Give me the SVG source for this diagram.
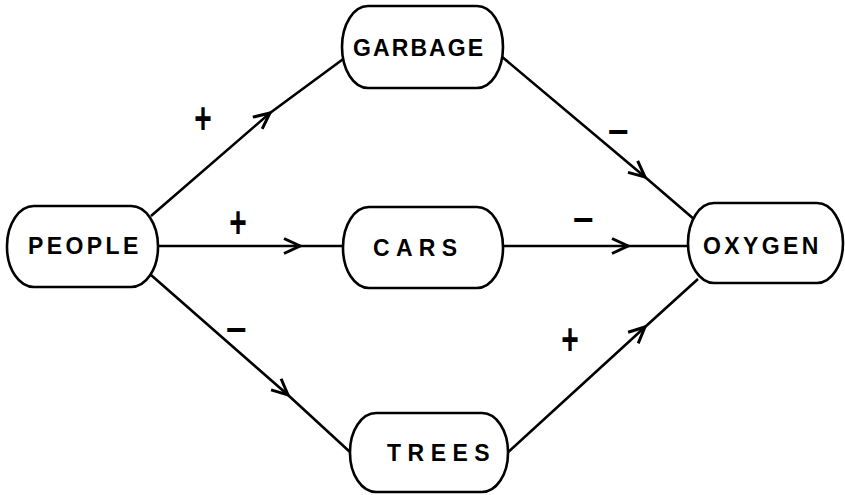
<svg xmlns="http://www.w3.org/2000/svg" width="845" height="495" viewBox="0 0 845 495">
  <style>
    .node rect { fill: #fff; stroke: #000; stroke-width: 2.6; }
    .node text { font-family: "Liberation Sans", Arial, sans-serif; font-size: 23px; font-weight: bold; fill: #000; }
    .edge { fill: none; stroke: #000; stroke-width: 2.6; marker-mid: url(#vhead); }
    .sign { font-family: "Liberation Sans", Arial, sans-serif; font-weight: bold; fill: #000; text-anchor: middle; }
    .plus { font-size: 30px; }
    .minus { font-size: 36px; }
  </style>
  <defs>
    <marker id="vhead" viewBox="-18 -10 20 20" markerWidth="20" markerHeight="20" refX="0" refY="0" orient="auto" markerUnits="userSpaceOnUse">
      <path d="M-16,-7.5 L0,0 L-16,7.5" fill="none" stroke="#000" stroke-width="3" stroke-linejoin="miter"/>
    </marker>
  </defs>
  <rect width="845" height="495" fill="#fff"/>

  <!-- connectors: each path passes through its arrowhead point -->
  <g id="connectors">
    <path class="edge" d="M151,216 L270,113 L346,57"/>
    <path class="edge" d="M158,246 L300,246 L343,246"/>
    <path class="edge" d="M151,275 L288,395 L350,452"/>
    <path class="edge" d="M501,56 L645,177 L695,220"/>
    <path class="edge" d="M503,246 L628,246 L688,246"/>
    <path class="edge" d="M505,455 L645,327 L698,279"/>
  </g>

  <!-- polarity signs (plus signs are drawn taller than wide) -->
  <g id="signs">
    <text class="sign plus" transform="translate(203,119) scale(1,1.5)" x="0" y="10">+</text>
    <text class="sign plus" transform="translate(238,223) scale(1,1.5)" x="0" y="10">+</text>
    <text class="sign minus" x="236" y="342">−</text>
    <text class="sign minus" x="618" y="144">−</text>
    <text class="sign minus" x="583" y="232">−</text>
    <text class="sign plus" transform="translate(570,340) scale(1,1.5)" x="0" y="10">+</text>
  </g>

  <g id="people" class="node">
    <rect x="7" y="206" width="151" height="81" rx="27" ry="40"/>
    <text x="28" y="254" letter-spacing="3.4">PEOPLE</text>
  </g>
  <g id="garbage" class="node">
    <rect x="342" y="6" width="161" height="82" rx="26" ry="41"/>
    <text x="353" y="56" letter-spacing="2.1">GARBAGE</text>
  </g>
  <g id="cars" class="node">
    <rect x="343" y="207" width="160" height="81" rx="26" ry="40"/>
    <text x="373" y="256" letter-spacing="6.3">CARS</text>
  </g>
  <g id="trees" class="node">
    <rect x="350" y="413" width="158" height="79" rx="26" ry="39"/>
    <text x="387" y="461" letter-spacing="6.5">TREES</text>
  </g>
  <g id="oxygen" class="node">
    <rect x="688" y="203" width="155" height="80" rx="26" ry="40"/>
    <text x="703" y="254" letter-spacing="3.4">OXYGEN</text>
  </g>
</svg>
